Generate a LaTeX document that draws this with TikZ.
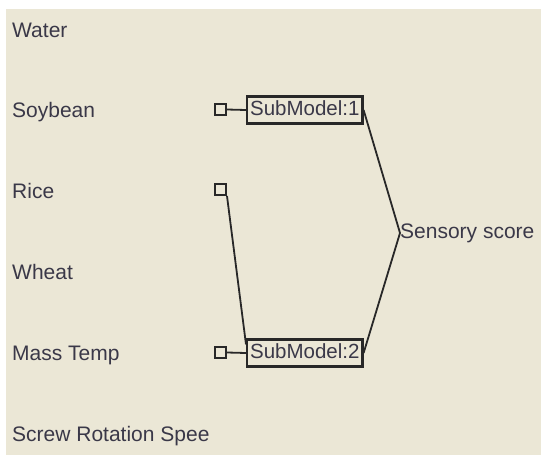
\documentclass[tikz,border=0pt]{standalone}
\usepackage{fontspec}
\setmainfont{Liberation Sans}
\definecolor{bg}{RGB}{235,231,214}
\definecolor{txt}{RGB}{58,56,72}
\definecolor{ln}{RGB}{40,40,40}
\begin{document}
\begin{tikzpicture}[x=1pt,y=-1pt,
  lbl/.style={anchor=base west,inner sep=0pt,text=txt,font=\fontsize{21}{24}\selectfont},
  port/.style={draw=ln,line width=2pt,minimum size=11pt,inner sep=0pt},
  sub/.style={draw=ln,line width=2.2pt,text=txt,font=\fontsize{20.5}{24}\selectfont,text height=15pt,text depth=4pt,inner xsep=3pt,inner ysep=4pt},
  wire/.style={draw=ln,line width=1.8pt}]
\useasboundingbox (0,0) rectangle (541,455);
\fill[white] (0,0) rectangle (541,455);
\fill[bg] (6,9) rectangle (541,455);
\node[lbl] (water) at (12,37.5) {Water};
\node[lbl] (soy) at (12,117.5) {Soybean};
\node[lbl] (rice) at (12,198.5) {Rice};
\node[lbl] (wheat) at (12,279.5) {Wheat};
\node[lbl] (mass) at (12,360.5) {Mass Temp};
\node[lbl] (screw) at (12,441.5) {Screw Rotation Spee};
\node[port] (p1) at (220.5,109.5) {};
\node[port] (p2) at (220.5,189.5) {};
\node[port] (p3) at (220.5,352.5) {};
\node[sub,anchor=west] (s1) at (246,110) {SubModel:1};
\node[sub,anchor=west] (s2) at (246,353) {SubModel:2};
\node[lbl,anchor=west] (sens) at (400,233) {Sensory score};
\draw[wire] (p1.east) -- (s1.west);
\draw[wire] (p3.east) -- (s2.west);
\draw[wire] (p2.south east) -- ([yshift=-6pt]s2.north west);
\draw[wire] (s1.east) -- (sens.west);
\draw[wire] (s2.east) -- (sens.west);
\end{tikzpicture}
\end{document}
